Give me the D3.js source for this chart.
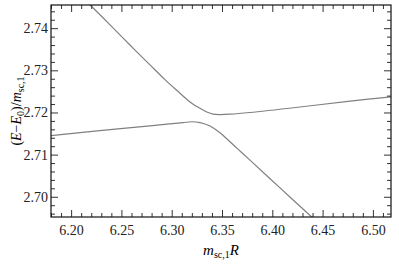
<!DOCTYPE html>
<html>
<head>
<meta charset="utf-8">
<script src="https://cdn.jsdelivr.net/npm/d3@7"></script>
<style>
  body { margin: 0; background: #fff; }
  svg { display: block; }
</style>
</head>
<body>
<svg width="399" height="268"></svg>
<script>
// upper branch of the avoided crossing
const upperX = [6.2138, 6.2387, 6.2585, 6.2784, 6.2933, 6.3053, 6.3182, 6.3251, 6.3311, 6.3361, 6.3410, 6.3480, 6.3580, 6.3778, 6.4275, 6.4773, 6.5180];
const upperY = [2.7467, 2.7408, 2.7360, 2.7313, 2.7278, 2.7252, 2.7225, 2.7214, 2.7206, 2.7200, 2.7196, 2.7195, 2.7196, 2.7200, 2.7213, 2.7227, 2.7237];

// lower branch
const lowerX = [6.1800, 6.2287, 6.2784, 6.2983, 6.3112, 6.3202, 6.3281, 6.3351, 6.3410, 6.3480, 6.3550, 6.3659, 6.3778, 6.4077, 6.4392, 6.4425];
const lowerY = [2.7145, 2.7157, 2.7168, 2.7173, 2.7176, 2.7178, 2.7176, 2.7171, 2.7164, 2.7152, 2.7137, 2.7113, 2.7087, 2.7021, 2.6952, 2.6945];

const xTicks = [6.20, 6.25, 6.30, 6.35, 6.40, 6.45, 6.50];
const yTicks = [2.70, 2.71, 2.72, 2.73, 2.74];

const serif = "'Liberation Serif', 'Times New Roman', 'DejaVu Serif', serif";

const svg = d3.select("svg");
const margin = { top: 5, right: 8, bottom: 51, left: 51 };
const width = 399 - margin.left - margin.right;
const height = 268 - margin.top - margin.bottom;
const g = svg.append("g").attr("transform", `translate(${margin.left},${margin.top})`);

const x = d3.scaleLinear().domain([6.18, 6.518]).range([0, width]);
const y = d3.scaleLinear().domain([2.6952, 2.7455]).range([height, 0]);

g.append("clipPath").attr("id", "clip")
  .append("rect").attr("width", width).attr("height", height);

const line = d3.line()
  .x(d => x(d[0]))
  .y(d => y(d[1]))
  .curve(d3.curveCatmullRom.alpha(0.5));

[[upperX, upperY], [lowerX, lowerY]].forEach(([xs, ys]) => {
  g.append("path")
    .datum(xs.map((v, i) => [v, ys[i]]))
    .attr("clip-path", "url(#clip)")
    .attr("fill", "none")
    .attr("stroke", "#808080")
    .attr("stroke-width", 1.2)
    .attr("d", line);
});

// minor tick values
const xMinor = d3.range(6.18, 6.5181, 0.01).filter(v => !xTicks.some(t => Math.abs(t - v) < 1e-6));
const yMinor = d3.range(2.696, 2.7456, 0.002).filter(v => !yTicks.some(t => Math.abs(t - v) < 1e-6));

function styleAxis(sel) {
  sel.select(".domain").remove();
  sel.selectAll(".tick line").attr("stroke", "#333").attr("stroke-width", 1);
}

// bottom / top
g.append("g").attr("transform", `translate(0,${height})`)
  .call(d3.axisBottom(x).tickValues(xTicks).tickFormat(d3.format(".2f")).tickSizeInner(-7).tickSizeOuter(0).tickPadding(8))
  .call(styleAxis);
g.append("g").attr("transform", `translate(0,${height})`)
  .call(d3.axisBottom(x).tickValues(xMinor).tickFormat("").tickSizeInner(-4).tickSizeOuter(0))
  .call(styleAxis);
g.append("g")
  .call(d3.axisTop(x).tickValues(xTicks).tickFormat("").tickSizeInner(-7).tickSizeOuter(0))
  .call(styleAxis);
g.append("g")
  .call(d3.axisTop(x).tickValues(xMinor).tickFormat("").tickSizeInner(-4).tickSizeOuter(0))
  .call(styleAxis);

// left / right
g.append("g")
  .call(d3.axisLeft(y).tickValues(yTicks).tickFormat(d3.format(".2f")).tickSizeInner(-7).tickSizeOuter(0).tickPadding(3))
  .call(styleAxis);
g.append("g")
  .call(d3.axisLeft(y).tickValues(yMinor).tickFormat("").tickSizeInner(-4).tickSizeOuter(0))
  .call(styleAxis);
g.append("g").attr("transform", `translate(${width},0)`)
  .call(d3.axisRight(y).tickValues(yTicks).tickFormat("").tickSizeInner(-7).tickSizeOuter(0))
  .call(styleAxis);
g.append("g").attr("transform", `translate(${width},0)`)
  .call(d3.axisRight(y).tickValues(yMinor).tickFormat("").tickSizeInner(-4).tickSizeOuter(0))
  .call(styleAxis);

g.selectAll(".tick text")
  .style("font-family", serif)
  .style("font-size", "14px")
  .attr("fill", "#222");

// frame
g.append("rect")
  .attr("width", width).attr("height", height)
  .attr("fill", "none").attr("stroke", "#111").attr("stroke-width", 1.2);

// x label
const xl = svg.append("text")
  .attr("x", margin.left + width / 2).attr("y", 255)
  .attr("text-anchor", "middle")
  .style("font-family", serif).style("font-size", "15px");
xl.append("tspan").attr("font-style", "italic").text("m");
xl.append("tspan").style("font-size", "10px").attr("dy", 3).text("sc,1");
xl.append("tspan").attr("font-style", "italic").attr("dy", -3).text("R");

// y label
const yl = svg.append("text")
  .attr("transform", `translate(21,${margin.top + height / 2}) rotate(-90)`)
  .attr("text-anchor", "middle")
  .style("font-family", serif).style("font-size", "14px");
yl.append("tspan").text("(");
yl.append("tspan").attr("font-style", "italic").text("E");
yl.append("tspan").text("−");
yl.append("tspan").attr("font-style", "italic").text("E");
yl.append("tspan").style("font-size", "10px").attr("dy", 3).text("0");
yl.append("tspan").attr("dy", -3).text(")/");
yl.append("tspan").attr("font-style", "italic").text("m");
yl.append("tspan").style("font-size", "10px").attr("dy", 3).text("sc,1");
</script>
</body>
</html>
